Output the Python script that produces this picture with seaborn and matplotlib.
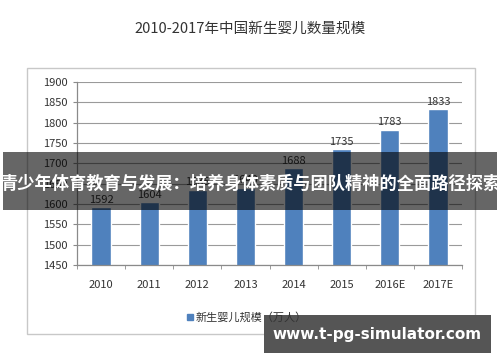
import matplotlib
matplotlib.use("Agg")
import matplotlib.pyplot as plt
import matplotlib.patches as mpatches
import numpy as np
import pandas as pd
import seaborn as sns

# data
years = ["2010", "2011", "2012", "2013", "2014", "2015", "2016E", "2017E"]
births = [1592, 1604, 1635, 1640, 1688, 1735, 1783, 1833]

title = "2010-2017年中国新生婴儿数量规模"
series_name = "新生婴儿规模（万人）"
banner = "青少年体育教育与发展：培养身体素质与团队精神的全面路径探索"
site = "www.t-pg-simulator.com"

sns.set_style("white")
plt.rcParams["font.family"] = ["Noto Sans CJK SC", "DejaVu Sans"]

BLUE = "#4F81BD"

fig = plt.figure(figsize=(5, 3.62), dpi=100)
fig.patch.set_facecolor("white")

# outer chart frame
frame = mpatches.Rectangle((0.054, 0.077), 0.896, 0.735, transform=fig.transFigure,
                           fill=False, edgecolor="#c8c8c8", linewidth=1.0)
fig.add_artist(frame)

ax = fig.add_axes([0.154, 0.268, 0.77, 0.505])
df = pd.DataFrame({"year": years, "births": births})
sns.barplot(data=df, x="year", y="births", color=BLUE, width=0.4,
            saturation=1, ax=ax)

ax.set_ylim(1450, 1900)
ax.set_yticks(np.arange(1450, 1901, 50))
ax.set_xlim(-0.5, len(years) - 0.5)
ax.set_xlabel("")
ax.set_ylabel("")
ax.grid(axis="y", color="#9a9a9a", linewidth=0.8)
ax.set_axisbelow(True)
for s in ["top", "right"]:
    ax.spines[s].set_visible(False)
for s in ["left", "bottom"]:
    ax.spines[s].set_color("#8a8a8a")
    ax.spines[s].set_linewidth(0.9)

ax.tick_params(axis="y", labelsize=8, length=3, color="#8a8a8a", pad=4,
               labelcolor="#333333", left=True)
ax.tick_params(axis="x", which="major", labelsize=8, length=0, pad=11,
               labelcolor="#333333")
ax.set_xticks(np.arange(-0.5, len(years)), minor=True)
ax.tick_params(axis="x", which="minor", length=3, color="#8a8a8a", bottom=True)

for i, v in enumerate(births):
    ax.text(i, v + 6, str(v), ha="center", va="bottom", fontsize=8,
            color="#333333")

fig.text(0.5, 0.922, title, ha="center", va="center", fontsize=10.5,
         color="#333333")

# legend
fig.add_artist(mpatches.Rectangle((0.374, 0.116), 0.012, 0.017,
                                  transform=fig.transFigure, color=BLUE))
fig.text(0.392, 0.124, series_name, ha="left", va="center", fontsize=8,
         color="#333333")

# overlay banner
fig.add_artist(mpatches.Rectangle((0.006, 0.42), 0.988, 0.16,
                                  transform=fig.transFigure, color="black",
                                  alpha=0.6, linewidth=0))
fig.text(0.5, 0.492, banner, ha="center", va="center", fontsize=12.4,
         color="white", fontweight="bold")

# site watermark
fig.add_artist(mpatches.Rectangle((0.528, 0.025), 0.454, 0.105,
                                  transform=fig.transFigure, color="#555555",
                                  linewidth=0))
fig.text(0.755, 0.077, site, ha="center", va="center", fontsize=11,
         color="white", fontweight="bold", family="DejaVu Sans")

fig.savefig("out.png", dpi=100)
